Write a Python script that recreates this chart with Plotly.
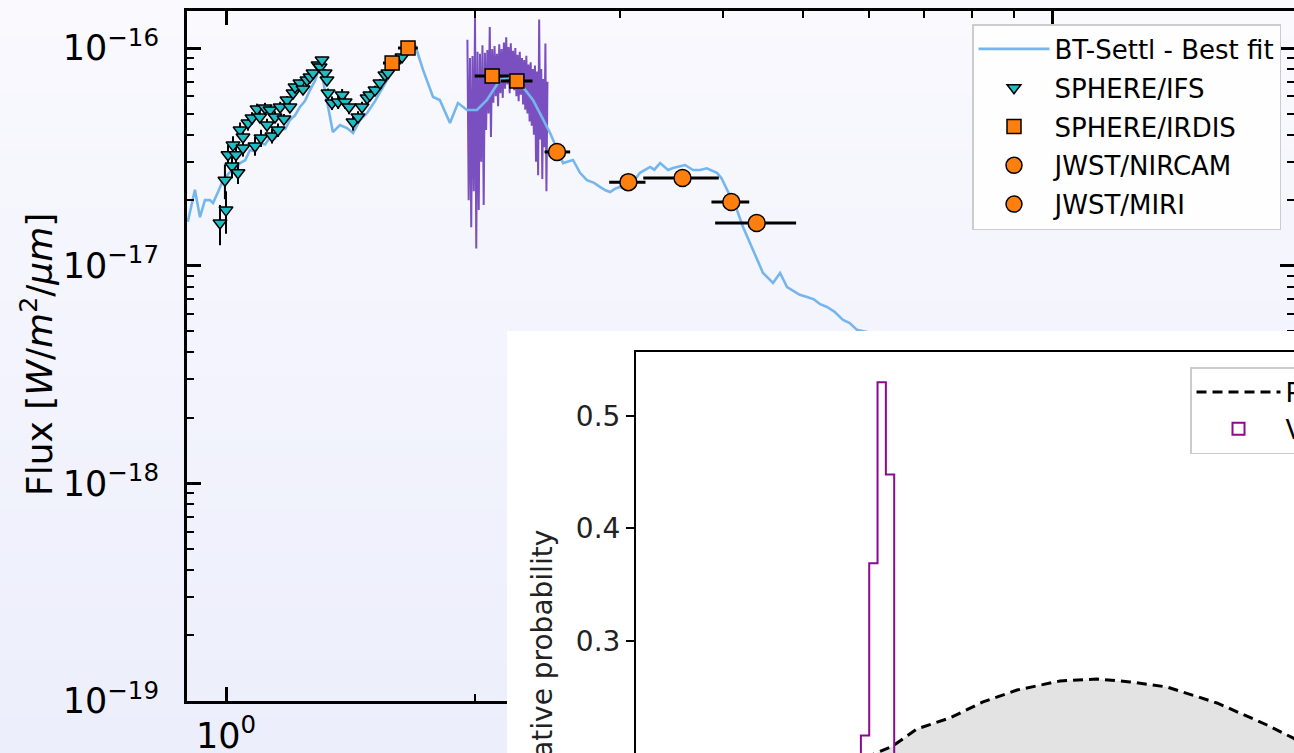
import plotly.graph_objects as go

W, H = 1294, 753

# ---------------- main SED data (flux in units of 1e-17 W/m2/um) ----------------
model_wl = [0.899, 0.9046, 0.917, 0.930, 0.943, 0.956, 0.9645, 0.978, 0.9917, 1.011,
            1.025, 1.040, 1.055, 1.069, 1.085, 1.099, 1.115, 1.131, 1.147, 1.163, 1.18,
            1.195, 1.212, 1.229, 1.246, 1.264, 1.282, 1.300, 1.315, 1.329, 1.347, 1.374,
            1.401, 1.425, 1.453, 1.482, 1.515, 1.549, 1.585, 1.624, 1.66, 1.694, 1.732,
            1.781, 1.815, 1.867, 1.909, 1.958, 2.013, 2.070, 2.146, 2.207, 2.288, 2.353,
            2.41, 2.468, 2.52, 2.559, 2.631, 2.683, 2.735, 2.79, 2.836, 2.88, 2.917,
            2.96, 2.999, 3.058, 3.11, 3.171, 3.261, 3.30, 3.354, 3.429, 3.477, 3.53,
            3.595, 3.677, 3.749, 3.82, 3.930, 3.98, 4.041, 4.155, 4.225, 4.345, 4.468,
            4.595, 4.686, 4.778, 4.86, 4.95, 5.052, 5.15, 5.24, 5.341, 5.45, 5.585,
            5.69, 5.806, 6.192, 6.546]
model_flux = [1.59, 1.75, 2.23, 1.67, 2.00, 2.00, 1.94, 2.18, 2.47, 2.69,
              2.75, 2.96, 3.05, 3.40, 3.35, 3.66, 3.60, 3.90, 3.85, 4.20, 4.25,
              4.67, 4.90, 5.36, 5.70, 6.41, 7.10, 8.35, 6.60, 5.19, 4.11, 4.43,
              4.29, 4.07, 4.67, 5.03, 5.70, 6.62, 7.70, 8.81, 9.60, 10.32, 7.93,
              5.96, 5.77, 4.52, 5.59, 5.19, 5.19, 5.77, 7.13, 7.36, 6.62, 5.77,
              4.85, 4.07, 3.40, 2.96, 3.06, 2.67, 2.47, 2.40, 2.30, 2.22, 2.18,
              2.26, 2.30, 2.23, 2.42, 2.67, 2.84, 2.76, 2.96, 2.75, 2.81, 2.86,
              2.90, 2.75, 2.75, 2.80, 2.67, 2.52, 2.23, 1.80, 1.51, 1.18, 0.926,
              0.833, 0.926, 0.798, 0.770, 0.735, 0.718, 0.700, 0.665, 0.646, 0.615, 0.563,
              0.545, 0.507, 0.480, 0.432]

spec_wl = [1.960, 1.967, 1.974, 1.981, 1.988, 1.995, 2.002, 2.009, 2.016, 2.023,
           2.030, 2.037, 2.044, 2.051, 2.058, 2.065, 2.072, 2.079, 2.086, 2.093,
           2.100, 2.107, 2.114, 2.121, 2.128, 2.135, 2.142, 2.149, 2.156, 2.163,
           2.170, 2.177, 2.184, 2.191, 2.198, 2.205, 2.212, 2.219, 2.226, 2.233,
           2.240, 2.247, 2.254, 2.261, 2.268, 2.275, 2.282, 2.289, 2.296, 2.303,
           2.310, 2.317, 2.324, 2.331, 2.338, 2.345, 2.352, 2.359, 2.366, 2.373,
           2.380, 2.387, 2.394, 2.401, 2.408, 2.415, 2.422, 2.429, 2.436, 2.443, 2.450]
spec_flux = [10.9, 2.0, 9.0, 1.5, 9.2, 2.2, 13.8, 1.2, 9.6, 1.8,
             9.4, 3.0, 10.3, 1.9, 9.5, 4.2, 9.8, 5.0, 12.5, 3.9,
             9.9, 5.6, 10.2, 6.0, 9.4, 5.4, 10.4, 6.2, 9.9, 5.9,
             10.6, 6.5, 11.2, 6.8, 10.1, 6.2, 10.5, 6.6, 9.7, 6.4,
             10.0, 6.0, 9.3, 5.7, 9.6, 6.1, 9.0, 5.5, 8.8, 5.2,
             9.2, 5.0, 8.4, 4.6, 8.6, 4.4, 8.0, 4.0, 8.3, 3.0,
             7.8, 2.6, 13.5, 3.8, 8.0, 2.5, 7.2, 3.5, 10.5, 2.2, 7.0]

ifs_wl = [0.9834, 1.000, 0.997, 1.0056, 1.0169, 1.0197, 1.0283, 1.0340, 1.040, 1.0485,
          1.0485, 1.0632, 1.0752, 1.0842, 1.0902, 1.099, 1.1025, 1.1149, 1.1211, 1.131,
          1.1368, 1.1463, 1.1559, 1.163, 1.1753, 1.1853, 1.195, 1.2055, 1.2122, 1.229,
          1.2394, 1.2532, 1.264, 1.2746, 1.2926, 1.2998, 1.307, 1.318, 1.325, 1.329,
          1.3437, 1.3669, 1.3822, 1.3938, 1.4094, 1.425, 1.4448, 1.461, 1.482, 1.4936,
          1.515, 1.5358, 1.5574, 1.5705, 1.6332]
ifs_flux = [1.57, 1.80, 2.47, 3.23, 2.87, 3.58, 3.23, 2.67, 4.20, 3.90,
            3.47, 4.52, 4.77, 3.55, 5.25, 4.82, 3.86, 5.30, 4.43, 5.19,
            3.94, 4.82, 4.20, 5.36, 4.72, 5.77, 5.36, 6.21, 6.62, 6.91,
            6.48, 7.13, 7.36, 7.68, 8.35, 8.18, 8.81, 7.68, 7.13, 6.21,
            5.59, 5.65, 6.08, 5.65, 5.36, 4.57, 4.82, 5.36, 5.89, 6.08,
            6.41, 6.91, 7.52, 7.68, 9.09]
ifs_err = [0.33, 0.40, 0.45, 0.35, 0.35, 0.35, 0.30, 0.30, 0.35, 0.30,
           0.30, 0.35, 0.30, 0.35, 0.30, 0.30, 0.35, 0.30, 0.30, 0.30,
           0.30, 0.30, 0.30, 0.30, 0.25, 0.25, 0.25, 0.25, 0.25, 0.25,
           0.25, 0.25, 0.25, 0.25, 0.30, 0.30, 0.30, 0.30, 0.30, 0.30,
           0.40, 0.40, 0.40, 0.40, 0.40, 0.40, 0.30, 0.30, 0.30, 0.30,
           0.30, 0.30, 0.30, 0.30, 0.30]

irdis_wl = [1.589, 1.661, 2.10, 2.25]
irdis_flux = [8.53, 10.0, 7.43, 7.05]
irdis_xerr = [0.04, 0.046, 0.10, 0.10]

nircam_wl = [2.516, 3.07, 3.57]
nircam_flux = [3.33, 2.42, 2.53]
nircam_xerr_plus = [0.094, 0.15, 0.38]
nircam_xerr_minus = [0.086, 0.16, 0.37]

miri_wl = [4.09, 4.39]
miri_flux = [1.96, 1.57]
miri_xerr_plus = [0.21, 0.51]
miri_xerr_minus = [0.22, 0.48]

# ---------------- inset data ----------------
hist_edges = [27, 28, 29, 30, 31]
hist_values = [0.216, 0.369, 0.530, 0.448]
prior_x = [24.0, 29.05, 30.85, 33.73, 37.70, 41.66, 45.74, 50.90, 55.34, 59.30,
           63.75, 69.75, 75.75, 78.87, 82.0]
prior_y = [0.185, 0.2013, 0.2067, 0.2218, 0.2316, 0.2458, 0.2564, 0.2644, 0.2662, 0.2636,
           0.2591, 0.2449, 0.2253, 0.2138, 0.200]

E17 = 1e-17
FONT = "DejaVu Sans"
ORANGE = "#ff7f0e"

fig = go.Figure()

# purple spectrum
fig.add_trace(go.Scatter(x=spec_wl, y=[v * E17 for v in spec_flux], mode="lines",
                         line=dict(color="#7a4fbf", width=2), showlegend=False,
                         xaxis="x", yaxis="y"))
# model
fig.add_trace(go.Scatter(x=model_wl, y=[v * E17 for v in model_flux], mode="lines",
                         line=dict(color="#76b6ee", width=2.6), name="BT-Settl - Best fit",
                         legendgroup="a", xaxis="x", yaxis="y"))
# IFS
fig.add_trace(go.Scatter(x=ifs_wl, y=[v * E17 for v in ifs_flux], mode="markers",
                         marker=dict(symbol="triangle-down", size=12, color="#1fbcc4",
                                     line=dict(color="black", width=1.5)),
                         error_y=dict(type="data", array=[v * E17 for v in ifs_err],
                                      color="black", thickness=2, width=0),
                         name="SPHERE/IFS", legendgroup="b", xaxis="x", yaxis="y"))
# IRDIS
fig.add_trace(go.Scatter(x=irdis_wl, y=[v * E17 for v in irdis_flux], mode="markers",
                         marker=dict(symbol="square", size=14, color=ORANGE,
                                     line=dict(color="black", width=1.5)),
                         error_x=dict(type="data", array=irdis_xerr, color="black",
                                      thickness=3, width=0),
                         name="SPHERE/IRDIS", legendgroup="c", xaxis="x", yaxis="y"))
# NIRCAM
fig.add_trace(go.Scatter(x=nircam_wl, y=[v * E17 for v in nircam_flux], mode="markers",
                         marker=dict(symbol="circle", size=17, color=ORANGE,
                                     line=dict(color="black", width=1.5)),
                         error_x=dict(type="data", array=nircam_xerr_plus,
                                      arrayminus=nircam_xerr_minus, color="black",
                                      thickness=3, width=0),
                         name="JWST/NIRCAM", legendgroup="d", xaxis="x", yaxis="y"))
# MIRI
fig.add_trace(go.Scatter(x=miri_wl, y=[v * E17 for v in miri_flux], mode="markers",
                         marker=dict(symbol="circle", size=17, color=ORANGE,
                                     line=dict(color="black", width=1.5)),
                         error_x=dict(type="data", array=miri_xerr_plus,
                                      arrayminus=miri_xerr_minus, color="black",
                                      thickness=3, width=0),
                         name="JWST/MIRI", legendgroup="e", xaxis="x", yaxis="y"))

# white inset panel (background of the inset figure)
fig.add_trace(go.Scatter(x=[0, 1, 1, 0, 0], y=[0, 0, 1, 1, 0], mode="lines",
                         fill="toself", fillcolor="white", line=dict(width=0, color="white"),
                         showlegend=False, hoverinfo="skip", xaxis="x2", yaxis="y2"))

# inset: prior fill + dashed line
fig.add_trace(go.Scatter(x=prior_x, y=prior_y, mode="lines", fill="tozeroy",
                         fillcolor="#e3e3e3", line=dict(width=0, color="#e3e3e3"),
                         showlegend=False, xaxis="x3", yaxis="y3"))
fig.add_trace(go.Scatter(x=prior_x, y=prior_y, mode="lines",
                         line=dict(color="black", width=3, dash="10px,6px"),
                         name="Prior", legend="legend2", xaxis="x3", yaxis="y3"))
# inset histogram (step outline)
hx, hy = [hist_edges[0]], [0]
for i, v in enumerate(hist_values):
    hx += [hist_edges[i], hist_edges[i + 1]]
    hy += [v, v]
hx.append(hist_edges[-1]); hy.append(0)
fig.add_trace(go.Scatter(x=hx, y=hy, mode="lines", line=dict(color="#8b0a8f", width=2),
                         showlegend=False, xaxis="x3", yaxis="y3"))
fig.add_trace(go.Bar(x=[None], y=[None], marker=dict(color="white",
                     line=dict(color="#8b0a8f", width=2)),
                     name="Values", legend="legend2", xaxis="x3", yaxis="y3"))

# ---------------- layout ----------------
tickfont_main = dict(family=FONT, size=35, color="black")
x_minor = [2, 3, 4, 5, 6, 7, 8, 9, 20]
y_minor = [m * 10.0 ** e for e in (-19, -18, -17) for m in range(2, 10)]

shapes = []
nb = 40
top_c = (249, 249, 254)
bot_c = (236, 238, 251)
for i in range(nb):
    t = (i + 0.5) / nb
    c = tuple(int(round(top_c[k] + (bot_c[k] - top_c[k]) * t)) for k in range(3))
    shapes.append(dict(type="rect", xref="paper", yref="paper", x0=0, x1=1,
                       y0=1 - (i + 1) / nb - 0.002, y1=1 - i / nb,
                       fillcolor="rgb(%d,%d,%d)" % c, line=dict(width=0), layer="below"))

fig.update_layout(
    width=W, height=H,
    margin=dict(l=0, r=0, t=0, b=0, autoexpand=False),
    paper_bgcolor="rgb(243,244,252)",
    plot_bgcolor="rgba(0,0,0,0)",
    font=dict(family=FONT, color="black"),
    shapes=shapes,
    xaxis=dict(type="log", domain=[187 / W, 1.0], range=[-0.04722, 1.29298],
               anchor="y", showline=True, linecolor="black", linewidth=3,
               mirror="allticks", ticks="inside", ticklen=14, tickwidth=2.5,
               tickcolor="black", tickmode="array", tickvals=[1, 10],
               ticktext=["10<sup>0</sup>", ""], tickfont=tickfont_main,
               ticklabelstandoff=2,
               minor=dict(tickmode="array", tickvals=x_minor, ticks="inside", ticklen=7,
                          tickwidth=2, tickcolor="black", showgrid=False),
               showgrid=False, zeroline=False),
    yaxis=dict(type="log", domain=[1 - 701 / H, 1 - 11 / H], range=[-19, -15.830],
               anchor="x", showline=True, linecolor="black", linewidth=3,
               mirror="allticks", ticks="inside", ticklen=14, tickwidth=2.5,
               tickcolor="black", tickmode="array",
               tickvals=[1e-19, 1e-18, 1e-17, 1e-16],
               ticktext=["10<sup>\u221219</sup>", "10<sup>\u221218</sup>",
                         "10<sup>\u221217</sup>", "10<sup>\u221216</sup>"],
               tickfont=tickfont_main, ticklabelstandoff=18,
               minor=dict(tickmode="array", tickvals=y_minor, ticks="inside", ticklen=7,
                          tickwidth=2, tickcolor="black", showgrid=False),
               showgrid=False, zeroline=False),
    xaxis2=dict(domain=[507 / W, 1.0], range=[0, 1], anchor="y2", visible=False,
                fixedrange=True),
    yaxis2=dict(domain=[0, 1 - 331 / H], range=[0, 1], anchor="x2", visible=False,
                fixedrange=True),
    xaxis3=dict(domain=[636 / W, 1.0], range=[0, 79.0], anchor="y3", side="top",
                showline=True, linecolor="black", linewidth=2, ticks="",
                showticklabels=False, showgrid=False, zeroline=False),
    yaxis3=dict(domain=[0, 1 - 352 / H], range=[0.2004, 0.5569], anchor="x3",
                showline=True, linecolor="black", linewidth=2, ticks="outside",
                ticklen=8, tickwidth=2, tickcolor="black", tickmode="array",
                tickvals=[0.2, 0.3, 0.4, 0.5], ticktext=["0.2", "0.3", "0.4", "0.5"],
                tickfont=dict(family=FONT, size=28, color="#222"),
                showgrid=False, zeroline=False),
    legend=dict(x=972 / W, y=1 - 24 / H, xanchor="left", yanchor="top",
                bgcolor="rgba(255,255,255,0.85)", bordercolor="#cccccc", borderwidth=1.5,
                font=dict(family=FONT, size=26, color="black"),
                tracegroupgap=2, traceorder="grouped", itemwidth=71),
    legend2=dict(x=1190 / W, y=1 - 367 / H, xanchor="left", yanchor="top",
                 bgcolor="white", bordercolor="#cccccc", borderwidth=1.5,
                 font=dict(family=FONT, size=26, color="black"), itemwidth=84),
    annotations=[
        dict(text="Flux [<i>W</i>/<i>m</i><sup>2</sup>/<i>\u03bcm</i>]", textangle=-90,
             xref="paper", yref="paper", x=37 / W, y=1 - 355 / H, xanchor="center",
             yanchor="middle", showarrow=False, font=dict(family=FONT, size=36, color="black")),
        dict(text="Relative probability", textangle=-90, xref="paper", yref="paper",
             x=542 / W, y=1 - 666 / H, xanchor="center", yanchor="middle", showarrow=False,
             font=dict(family=FONT, size=28, color="#222")),
    ],
)

fig.write_html("out.html", config={"displayModeBar": False},
               post_script="document.body.style.margin='0';document.body.style.overflow='hidden';")
